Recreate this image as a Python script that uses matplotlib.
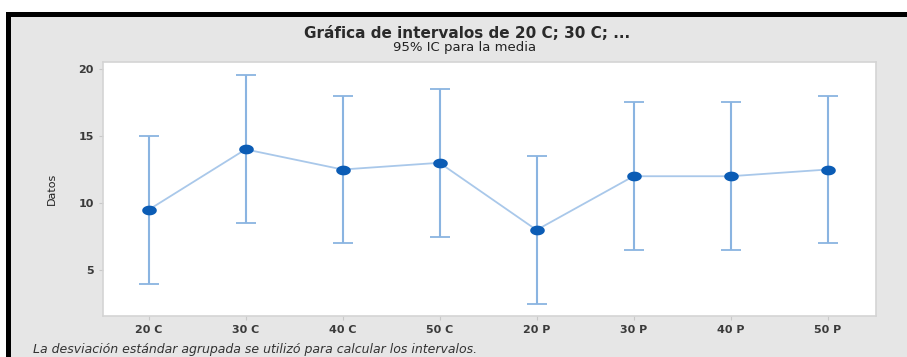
import matplotlib
matplotlib.use("Agg")
import matplotlib.pyplot as plt
import numpy as np
from matplotlib.path import Path
from matplotlib.patches import Rectangle

# Group labels, means and 95% CI bounds
groups = ["20 C", "30 C", "40 C", "50 C", "20 P", "30 P", "40 P", "50 P"]
means = [9.5, 14.0, 12.5, 13.0, 8.0, 12.0, 12.0, 12.5]
ci_low = [4.0, 8.5, 7.0, 7.5, 2.5, 6.5, 6.5, 7.0]
ci_high = [15.0, 19.5, 18.0, 18.5, 13.5, 17.5, 17.5, 18.0]
yticks = [5, 10, 15, 20]

plt.rcParams['font.family'] = ['DejaVu Sans']

fig = plt.figure(figsize=(9.07, 3.57), dpi=100)
W, H = 907, 357

# black frame on top/left with gray panel background
fig.patches.append(Rectangle((6 / W, 0), 1, 1 - 12 / H, transform=fig.transFigure,
                             facecolor="black", edgecolor="none", zorder=-2))
fig.patches.append(Rectangle((11 / W, 0), 1, 1 - 17 / H, transform=fig.transFigure,
                             facecolor="#e6e6e6", edgecolor="none", zorder=-1))

ax = fig.add_axes([103 / W, 1 - 316 / H, (876 - 103) / W, (316 - 62) / H])
ax.set_zorder(1)
ax.set_facecolor("white")

x = np.arange(len(groups))
m = np.array(means)
lo = m - np.array(ci_low)
hi = np.array(ci_high) - m

ax.plot(x, m, color="#a9c8ea", lw=1.3, zorder=2)
ax.errorbar(x, m, yerr=[lo, hi], fmt="none", ecolor="#8ab4e1", elinewidth=1.5,
            capsize=7.5, capthick=1.3, zorder=3)

# slightly wide oval marker
t = np.linspace(0, 2 * np.pi, 60)
oval = Path(np.column_stack([1.5 * np.cos(t), np.sin(t)]), closed=True)
ax.plot(x, m, linestyle="none", marker=oval, markersize=10.5, color="#0b5cb5",
        markeredgewidth=0, zorder=4)

ax.set_xlim(-0.47, 7.5)
ax.set_ylim(1.6, 20.5)
ax.set_xticks(x)
ax.set_xticklabels(groups)
ax.set_yticks(yticks)
ax.tick_params(axis="both", labelsize=8, colors="#c8c8c8", labelcolor="#3a3a3a", length=3, width=0.8)
for lab in ax.get_xticklabels() + ax.get_yticklabels():
    lab.set_fontweight("bold")
for s in ax.spines.values():
    s.set_color("#d4d4d4")
    s.set_linewidth(1.2)

ax.set_ylabel("Datos", fontsize=8, color="#222222", labelpad=16)

fig.text(467 / W, 1 - 33 / H, "Gráfica de intervalos de 20 C; 30 C; ...", ha="center",
         va="center", fontsize=11, fontweight="bold", color="#2a2a2a")
fig.text(465 / W, 1 - 47 / H, "95% IC para la media", ha="center", va="center",
         fontsize=9.5, color="#222222")
fig.text(33 / W, 1 - 349 / H,
         "La desviación estándar agrupada se utilizó para calcular los intervalos.",
         ha="left", va="center", fontsize=9, style="italic", color="#333333")

fig.savefig("out.png", dpi=100, facecolor="white")
